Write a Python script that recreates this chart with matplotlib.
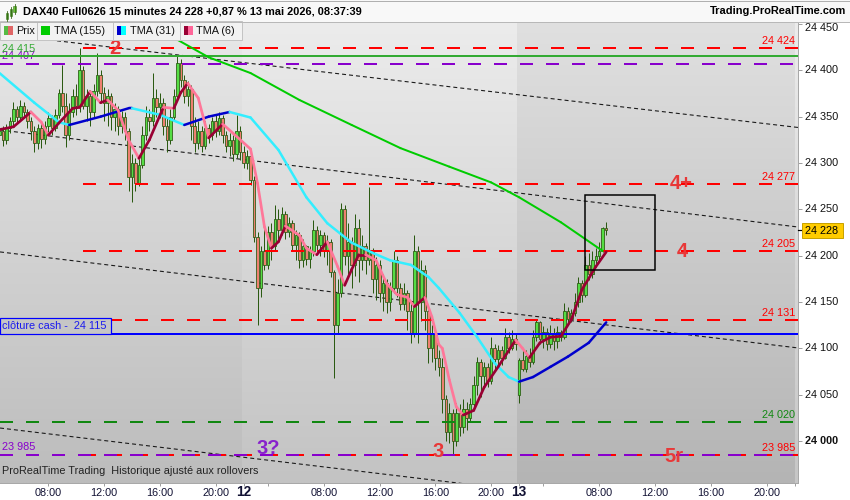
import matplotlib
matplotlib.use("Agg")
import matplotlib.pyplot as plt
import numpy as np
from matplotlib.patches import Rectangle
from matplotlib.collections import LineCollection
from matplotlib.colors import to_rgb

plt.rcParams['font.family'] = ['Liberation Sans', 'DejaVu Sans']
plt.rcParams['lines.scale_dashes'] = False

# ---------------- data (15-minute candles, index 0 = 11 May 04:30) ----------------
opens = [24330,24335,24325,24338,24345,24358,24350,24362,24355,24345,
         24335,24322,24338,24326,24340,24348,24338,24352,24375,24362,
         24330,24355,24372,24362,24400,24362,24372,24355,24378,24395,
         24376,24365,24372,24350,24358,24340,24350,24335,24285,24300,
         24278,24298,24330,24350,24345,24370,24360,24365,24340,24325,
         24350,24372,24408,24390,24372,24380,24340,24322,24335,24318,
         24338,24330,24345,24335,24348,24330,24318,24325,24310,24335,
         24312,24300,24308,24282,24220,24165,24205,24190,24225,24210,
         24240,24228,24245,24225,24235,24212,24222,24195,24210,24196,
         24205,24228,24212,24222,24205,24215,24182,24125,24160,24250,
         24200,24215,24190,24230,24195,24210,24195,24205,24175,24190,
         24160,24170,24150,24165,24195,24165,24148,24160,24140,24115,
         24205,24150,24185,24140,24100,24115,24090,24080,24045,24010,
         24030,24000,24030,24015,24035,24025,24040,24060,24085,24070,
         24080,24065,24100,24088,24098,24090,24112,24100,24110,24050,
         24087,24078,24092,24085,24112,24128,24110,24118,24105,24115,
         24108,24118,24112,24140,24132,24138,24150,24170,24158,24190,
         24180,24195,24200,24205,24230]
highs = [24340,24340,24342,24350,24366,24362,24368,24366,24358,24350,
         24340,24342,24344,24345,24355,24352,24358,24380,24406,24376,
         24365,24380,24385,24424,24405,24380,24378,24385,24419,24400,
         24382,24380,24375,24365,24362,24356,24355,24338,24310,24305,
         24305,24340,24362,24358,24397,24380,24375,24370,24348,24358,
         24380,24417,24412,24395,24388,24384,24350,24345,24340,24345,
         24342,24350,24352,24355,24352,24335,24332,24330,24352,24340,
         24318,24314,24310,24286,24225,24210,24230,24232,24235,24255,
         24250,24252,24248,24242,24238,24228,24225,24218,24212,24210,
         24238,24232,24228,24226,24222,24218,24185,24175,24257,24255,
         24235,24220,24245,24240,24222,24214,24274,24208,24198,24195,
         24180,24175,24172,24205,24200,24170,24170,24163,24150,24222,
         24210,24195,24190,24145,24125,24120,24098,24090,24050,24041,
         24035,24041,24040,24045,24042,24046,24070,24091,24088,24085,
         24084,24112,24105,24104,24102,24122,24118,24120,24115,24090,
         24098,24098,24100,24120,24131,24130,24124,24122,24125,24122,
         24124,24120,24149,24145,24142,24160,24177,24174,24200,24203,
         24205,24208,24215,24231,24236]
lows = [24322,24318,24320,24332,24340,24343,24346,24350,24338,24325,
        24312,24315,24316,24320,24333,24330,24334,24348,24355,24317,
        24325,24350,24352,24355,24358,24345,24340,24350,24372,24365,
        24345,24340,24336,24335,24330,24332,24325,24270,24258,24270,
        24275,24295,24325,24335,24340,24350,24348,24330,24312,24320,
        24345,24368,24382,24365,24362,24325,24312,24315,24312,24315,
        24322,24325,24328,24330,24322,24312,24308,24302,24305,24303,
        24295,24294,24276,24215,24125,24155,24185,24186,24195,24205,
        24218,24222,24218,24220,24205,24195,24187,24188,24190,24187,
        24200,24205,24200,24198,24190,24177,24068,24115,24155,24190,
        24180,24165,24178,24172,24185,24180,24190,24160,24152,24150,
        24140,24138,24140,24160,24155,24141,24141,24120,24106,24112,
        24106,24130,24120,24084,24085,24077,24070,24030,24000,23998,
        23985,23995,24005,24009,24012,24020,24035,24050,24048,24060,
        24058,24062,24077,24080,24082,24088,24095,24098,24098,24041,
        24075,24074,24080,24083,24108,24105,24100,24098,24100,24098,
        24100,24108,24110,24125,24128,24135,24145,24150,24155,24174,
        24176,24190,24195,24204,24222]
closes = [24335,24325,24338,24345,24358,24350,24362,24355,24345,24335,
          24322,24338,24326,24340,24348,24338,24352,24375,24362,24330,
          24355,24372,24362,24400,24362,24372,24355,24378,24395,24376,
          24365,24372,24350,24358,24340,24350,24335,24285,24300,24278,
          24298,24330,24350,24345,24370,24360,24365,24340,24325,24350,
          24372,24408,24390,24372,24380,24340,24322,24335,24318,24338,
          24330,24345,24335,24348,24330,24318,24325,24310,24335,24312,
          24300,24308,24282,24220,24165,24205,24190,24225,24210,24240,
          24228,24245,24225,24235,24212,24222,24195,24210,24196,24205,
          24228,24212,24222,24205,24215,24182,24125,24160,24250,24200,
          24215,24190,24230,24195,24210,24195,24205,24175,24190,24160,
          24170,24150,24165,24195,24165,24148,24160,24140,24115,24205,
          24150,24185,24140,24100,24115,24090,24080,24045,24010,24030,
          24000,24030,24015,24035,24025,24040,24060,24085,24070,24080,
          24065,24100,24088,24098,24090,24112,24100,24110,24105,24087,
          24078,24092,24085,24112,24128,24110,24118,24105,24115,24108,
          24118,24112,24140,24132,24138,24150,24170,24158,24190,24180,
          24195,24200,24205,24230,24228]

# moving averages (candle index, price)
tma6_idx = [0,4,9,12,14,17,21,23,26,29,31,34,37,40,43,47,50,52,54,57,60,64,67,72,74,76,78,80,82,86,88,91,94,97,99,101,103,105,108,111,114,117,119,122,124,126,127,129,131,133,136,139,143,148,150,152,155,158,161,164,167,171,174]
tma6_val = [24336,24339,24355,24344,24330,24343,24359,24360,24377,24365,24368,24357,24325,24305,24325,24360,24359,24376,24386,24370,24327,24342,24332,24315,24278,24231,24208,24215,24232,24222,24208,24201,24215,24188,24168,24185,24201,24201,24195,24170,24158,24155,24145,24155,24134,24104,24100,24066,24037,24028,24033,24058,24080,24109,24100,24090,24106,24112,24113,24131,24163,24188,24204]
tma31_idx = [0,10,17,20,29,37,38,46,53,60,66,72,80,88,94,101,107,112,118,123,126,132,137,142,146,149,153,158,163,169,174]
tma31_val = [24397,24365,24344,24341,24350,24359,24359,24352,24341,24350,24355,24349,24314,24263,24235,24214,24203,24195,24190,24177,24165,24138,24112,24084,24069,24064,24069,24080,24091,24106,24128]
tma155_idx = [43,51,60,72,86,101,115,129,141,149,161,173]
tma155_val = [24452,24433,24414,24397,24368,24341,24316,24296,24279,24263,24236,24205]

# horizontal levels
levels_red = [24424, 24277, 24205, 24131, 23985]
level_red_start = 24
level_green_solid = 24415
level_purple = [24407, 23985]
level_green_dash = 24020
level_cash = 24115
# trend channel lines (start idx, start price, end idx, end price)
trend_lines = [(14.5, 24432.7, 229.0, 24338.3),
               (0.15, 24335.6, 229.0, 24230.9),
               (0.15, 24204.0, 229.0, 24100.4),
               (0.15, 24014.0, 229.0, 23910.6)]
box_zone = (168, 24265, 188, 24185)

xtick_pos = [14, 30, 46, 62, 93, 109, 125, 141, 172, 188, 204, 220]
xtick_lab = ['08:00', '12:00', '16:00', '20:00', '08:00', '12:00', '16:00', '20:00',
             '08:00', '12:00', '16:00', '20:00']
day_pos = [70, 149]
day_lab = ['12', '13']
xminor = [77, 156, 228]
yticks = [24000, 24050, 24100, 24150, 24200, 24250, 24300, 24350, 24400, 24450]
last_price = 24228

# ---------------- figure ----------------
W, H = 850.0, 500.0
fig = plt.figure(figsize=(8.5, 5), dpi=100)
fig.patch.set_facecolor('white')
PT = 0.72  # points per pixel
AX_H = 482.7 - 22
ax = fig.add_axes([0, 1 - 482.7 / H, 798 / W, AX_H / H])
XL = (0.148, 229.0)
YL = (23955.0, 24452.1)
PPX = (YL[1] - YL[0]) / AX_H  # price per pixel

def grad(x0, x1, ctop, cbot):
    t = np.linspace(0, 1, 256)[:, None, None]
    a = np.array(to_rgb(ctop))[None, None, :]
    b = np.array(to_rgb(cbot))[None, None, :]
    img = a * (1 - t) + b * t
    ax.imshow(img, extent=(x0, x1, YL[0], YL[1]), aspect='auto', zorder=0,
              origin='upper', interpolation='bilinear')

grad(XL[0], 69.5, '#e8e8e8', '#bcbcbc')
grad(69.5, 148.5, '#ececec', '#c3c3c3')
grad(148.5, 228.0, '#e0e0e0', '#b4b4b4')
grad(228.0, XL[1], '#ececec', '#c6c6c6')
ax.set_xlim(*XL)
ax.set_ylim(*YL)

# trend lines
for (a0, p0, a1, p1) in trend_lines:
    ax.plot([a0, a1], [p0, p1], color='#1a1a1a', lw=1.1 * PT,
            ls=(0, (4 * PT, 3 * PT)), zorder=1.5)

# candles
n = len(closes)
xs = np.arange(n)
o = np.array(opens, float); c = np.array(closes, float)
h = np.array(highs, float); l = np.array(lows, float)
edge = '#2b5a12'
ax.vlines(xs, l, h, color=edge, lw=1.0 * PT, zorder=2)
bot = np.minimum(o, c)
hei = np.maximum(np.abs(c - o), 0.8)
fills = ['#55dd44' if cc >= oo else '#ee8070' for oo, cc in zip(o, c)]
ax.bar(xs, hei, bottom=bot, width=0.72, color=fills, edgecolor=edge,
       linewidth=0.8 * PT, zorder=2.2)

# horizontal levels
dash = (0, (13 * PT, 13 * PT))
for p in levels_red:
    ax.plot([level_red_start, XL[1]], [p, p], color='#ff0000', lw=2 * PT, ls=dash, zorder=3)
ax.plot([XL[0], XL[1]], [level_green_solid] * 2, color='#33aa33', lw=2 * PT, zorder=3.1)
for p in level_purple:
    ax.plot([XL[0], XL[1]], [p, p], color='#8800cc', lw=2 * PT, ls=dash, zorder=3.05)
ax.plot([XL[0], XL[1]], [level_green_dash] * 2, color='#118811', lw=2 * PT, ls=dash, zorder=3)
ax.plot([XL[0], XL[1]], [level_cash] * 2, color='#0000ff', lw=2 * PT, zorder=3.1)

# moving averages with direction colours
def ma_line(idx, val, up, down, lw, z):
    pts = np.column_stack([idx, val]).astype(float)
    segs = [pts[k:k + 2] for k in range(len(pts) - 1)]
    cols = [up if val[k + 1] >= val[k] else down for k in range(len(pts) - 1)]
    ax.add_collection(LineCollection(segs, colors=cols, linewidths=lw,
                                     capstyle='round', joinstyle='round', zorder=z))

ma_line(tma155_idx, tma155_val, '#00cc00', '#00cc00', 2 * PT, 4)
ma_line(tma31_idx, tma31_val, '#0000cc', '#33eeff', 2.5 * PT, 4.1)
ma_line(tma6_idx, tma6_val, '#990033', '#ff7799', 2.7 * PT, 4.2)

# zone rectangle
ax.add_patch(Rectangle((box_zone[0], box_zone[3]), box_zone[2] - box_zone[0],
                       box_zone[1] - box_zone[3], fill=False, edgecolor='black',
                       lw=1.5 * PT, zorder=4.5))

# level labels
yt = ax.get_yaxis_transform()
def fmt(p):
    return f"{p // 1000} {p % 1000:03d}"
for p, col in [(24424, '#ff0000'), (24277, '#ff0000'), (24205, '#ff0000'),
               (24131, '#ff0000'), (24020, '#118811'), (23985, '#ff0000')]:
    ax.annotate(fmt(p), (795 / 798, p), xycoords=yt,
                xytext=(0, 1.5), textcoords='offset points', ha='right', va='bottom',
                color=col, fontsize=7.8, zorder=6)
for p, col in [(24415, '#33aa33'), (24407, '#8800cc'), (23985, '#8800cc')]:
    ax.annotate(fmt(p), (2 / 798, p), xycoords=yt,
                xytext=(0, 2), textcoords='offset points', ha='left', va='bottom',
                color=col, fontsize=7.8, zorder=3.08 if p == 24407 else 6)

# wave labels
red_lab = '#e83838'
for txt, xi, p, col in [('2', 33.1, 24424, red_lab), ('4+', 195.6, 24278, red_lab),
                        ('4', 195.7, 24205, red_lab), ('3', 125.8, 23989, red_lab),
                        ('3?', 77.1, 23992, '#8822cc'), ('5r', 193.4, 23983, red_lab)]:
    ax.text(xi, p, txt, color=col, fontsize=14.5, fontweight='bold', ha='center',
            va='center', zorder=6)

# cash close label box (sits on the cash line)
ax.add_patch(Rectangle((0, level_cash), 111 / 798, 16 * PPX, transform=yt,
                       facecolor='#c6c6c6', edgecolor='#0000ff', lw=1.2 * PT, zorder=6.5))
ax.text(2.5 / 798, level_cash + 8.3 * PPX, 'clôture cash -  24 115', transform=yt,
        color='#1a1aee', fontsize=7.8, va='center', ha='left', zorder=7)

ax.text(2.5 / 798, 0.015, 'ProRealTime Trading  Historique ajusté aux rollovers',
        transform=ax.transAxes, color='#222222', fontsize=7.8, ha='left', va='bottom', zorder=7)

# axes styling
for s in ['top', 'left']:
    ax.spines[s].set_visible(False)
for s in ['right', 'bottom']:
    ax.spines[s].set_color('#a8a8a8')
    ax.spines[s].set_linewidth(1 * PT)
ax.yaxis.tick_right()
ax.set_yticks(yticks)
ax.tick_params(axis='y', length=4 * PT, color='#888888', labelright=False, width=0.8 * PT)
for p in yticks:
    yy = p - (4.0 if p == 24450 else 0)
    ax.text(1 + 7 / 798, yy, fmt(p), transform=yt, ha='left', va='center',
            fontsize=7.8, color='#111111', fontweight='bold' if p == 24000 else 'normal',
            clip_on=False)
ax.set_xticks(xtick_pos + day_pos)
ax.set_xticklabels(xtick_lab + [''] * len(day_pos))
ax.set_xticks(xminor, minor=True)
ax.tick_params(axis='x', which='both', length=3 * PT, color='#888888', pad=2,
               labelsize=7.8, labelcolor='#111133', width=0.8 * PT)
xt = ax.get_xaxis_transform()
for xp, lab in zip(day_pos, day_lab):
    ax.text(xp, -9.8 / AX_H, lab, transform=xt, ha='center', va='center', fontsize=9.8,
            fontweight='bold', color='#111133', clip_on=False)

# current price marker
ax.plot([1.0, 1.0 + 4 / 798], [last_price, last_price], transform=yt, color='black',
        lw=1.2 * PT, clip_on=False, zorder=8)
fig.add_artist(Rectangle((802 / W, 1 - 237.5 / H), 41 / W, 15 / H, transform=fig.transFigure,
                         facecolor='#ffcc00', edgecolor='#c9a200', lw=1 * PT))
fig.text(805 / W, 1 - 230.5 / H, fmt(last_price), fontsize=7.8, color='black', va='center', ha='left')

# title bar
fig.add_artist(Rectangle((0, 1 - 21.5 / H), 1, 21.5 / H, transform=fig.transFigure,
                         facecolor='#f8f8f8', edgecolor='none'))
fig.add_artist(plt.Line2D([0, 1], [1 - 0.5 / H] * 2, transform=fig.transFigure, color='#b0b0b0', lw=1 * PT))
fig.add_artist(plt.Line2D([0, 1], [1 - 21.5 / H] * 2, transform=fig.transFigure, color='#b8b8b8', lw=1 * PT))
for (x0, y0, hh, col) in [(5.5, 13, 6, '#44aa22'), (9.5, 9, 7, '#44aa22'), (13.5, 6, 6, '#66cc33')]:
    fig.add_artist(plt.Line2D([(x0 + 1) / W] * 2, [1 - (y0 + hh + 2) / H, 1 - (y0 - 2) / H],
                              transform=fig.transFigure, color='#336611', lw=0.8 * PT))
    fig.add_artist(Rectangle((x0 / W, 1 - (y0 + hh) / H), 2.2 / W, hh / H, transform=fig.transFigure,
                             facecolor=col, edgecolor='#336611', lw=0.5 * PT))
fig.text(23 / W, 1 - 11.5 / H, 'DAX40 Full0626 15 minutes 24 228 +0,87 % 13 mai 2026, 08:37:39',
         fontsize=7.9, fontweight='bold', color='black', va='center', ha='left')
fig.text(846 / W, 1 - 11.5 / H, 'Trading.ProRealTime.com', fontsize=7.9, fontweight='bold',
         color='black', va='center', ha='right')

# legend boxes
leg = [(0, 37, 'Prix', ('#55bb44', '#e06666')),
       (37, 113, 'TMA (155)', ('#00cc00', '#00cc00')),
       (113, 180, 'TMA (31)', ('#0000cc', '#00ffff')),
       (180, 242, 'TMA (6)', ('#990033', '#ff6699'))]
for (x0, x1, txt, (c1, c2)) in leg:
    fig.add_artist(Rectangle((x0 / W, 1 - 39.5 / H), (x1 - x0) / W, 18 / H, transform=fig.transFigure,
                             facecolor='#f2f2f2', edgecolor='#c4c4c4', lw=1 * PT))
    fig.add_artist(Rectangle(((x0 + 3.5) / W, 1 - 35 / H), 4.6 / W, 9 / H, transform=fig.transFigure,
                             facecolor=c1, edgecolor='none'))
    fig.add_artist(Rectangle(((x0 + 8.1) / W, 1 - 35 / H), 4.6 / W, 9 / H, transform=fig.transFigure,
                             facecolor=c2, edgecolor='none'))
    fig.text((x0 + 16.5) / W, 1 - 30.5 / H, txt, fontsize=7.8, color='#111111', va='center', ha='left')

fig.savefig('out.png', dpi=100)
